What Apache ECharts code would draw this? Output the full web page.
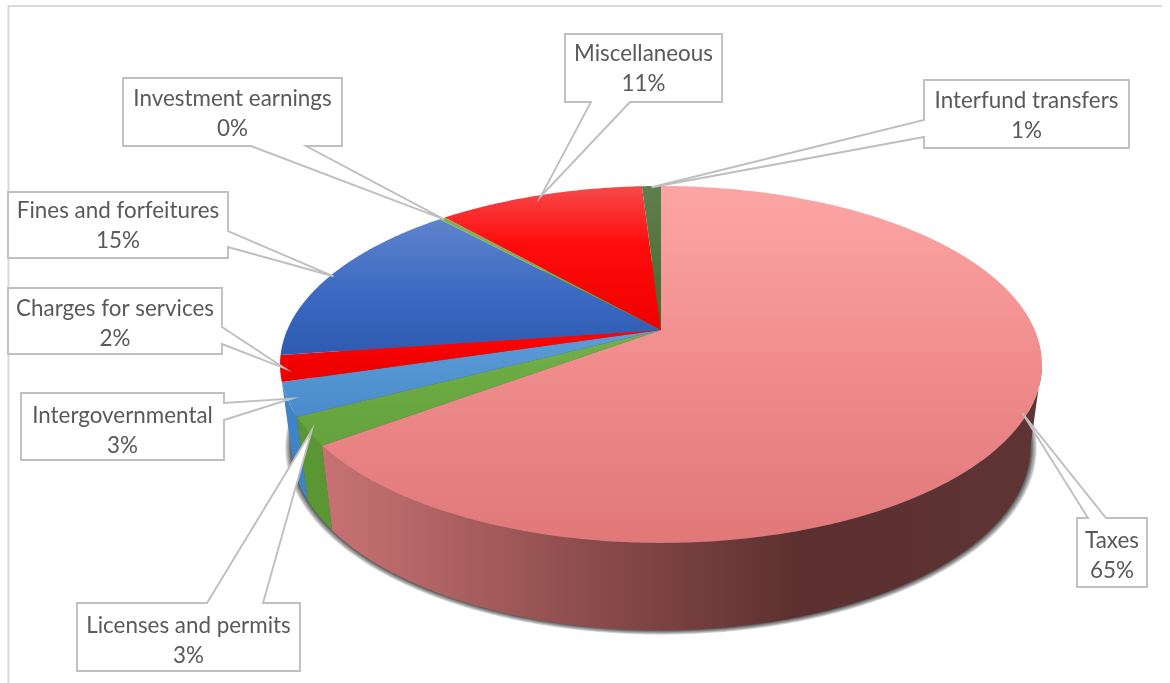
<!DOCTYPE html>
<html>
<head>
<meta charset="utf-8">
<style>html,body{margin:0;padding:0;background:#fff}#chart{width:1170px;height:683px}</style>
<script src="https://cdn.jsdelivr.net/npm/echarts@6/dist/echarts.min.js"></script>
</head>
<body>
<div id="chart"></div>
<script>
// Revenue sources, clockwise from twelve o'clock.
const categories = ['Taxes', 'Licenses and permits', 'Intergovernmental', 'Charges for services',
  'Fines and forfeitures', 'Investment earnings', 'Miscellaneous', 'Interfund transfers'];
const revenueShare = [64.85, 2.55, 3.0, 2.35, 15.45, 0.3, 10.55, 0.97];

// Callout boxes: left, top, right, bottom, the edge carrying the pointer, and the pointer's base along it.
const calloutBoxes = [
  [1077, 518, 1147, 587, 'top', 1088, 1106],
  [77, 603, 300, 671, 'top', 207, 263],
  [21, 393, 224, 460, 'right', 403, 420],
  [8, 288, 222, 354, 'right', 327, 344],
  [8, 192, 228, 258, 'right', 231, 247],
  [123, 78, 342, 146, 'bottom', 251, 306],
  [565, 34, 722, 102, 'bottom', 591, 630],
  [924, 80, 1129, 148, 'left', 120, 137]
];
// Vertical nudge of each callout's text inside its box.
const calloutTextShift = [3, 4, 4, 2.5, 0.5, 2, 1, 2];

// Face shading per slice: vertical stops on the top face, horizontal stops on the wall.
const topStops = [
  [[0, '#FDA5A5'], [0.5, '#F08C8C'], [1, '#E07878']],
  [[0, '#72B049'], [1, '#63A23C']],
  [[0, '#5B9CD8'], [1, '#4A8CCB']],
  [[0, '#FF0505'], [1, '#EA0000']],
  [[0, '#5F84CC'], [0.55, '#3C69C2'], [1, '#2E5BB0']],
  [[0, '#7DB45A'], [1, '#6CA845']],
  [[0, '#F64A4A'], [0.4, '#FF0C0C'], [1, '#F00000']],
  [[0, '#607F50'], [1, '#43682B']]
];
const wallStops = [
  [[0, '#C87272'], [0.11, '#B86868'], [0.386, '#8A4A4A'], [0.664, '#5C3030'], [1, '#5F3434']],
  [[0, '#5A9632'], [1, '#5A9632']],
  [[0, '#3F85C6'], [1, '#3F85C6']],
  [[0, '#D40000'], [1, '#D40000']],
  [[0, '#274A90'], [1, '#274A90']],
  [[0, '#5A9632'], [1, '#5A9632']],
  [[0, '#D40000'], [1, '#D40000']],
  [[0, '#3A5A25'], [1, '#3A5A25']]
];

// Soft edge under the disc, as stacked translucent rims from the outside in.
const shadowRims = [1.016, 1.013, 1.010, 1.007, 1.005, 1.003, 1.001];

// Perspective projection of the disc: the apex stays at the slices' meeting point,
// the far rim is compressed and the near rim enlarged.
const apexX = 661, apexY = 330, tilt = 0.193;
const spanX = 373.8, spanY = 171.8;
const lowerY = 411, lowerScaleX = 0.97, lowerScaleY = 1.03;
const wallFrom = 101, wallTo = 253.4;
const rimTop = apexY - spanY / (1 + tilt), rimBottom = apexY + spanY / (1 - tilt);

function project(deg, radius, lower) {
  const a = deg * Math.PI / 180, x = Math.sin(a) * radius, y = -Math.cos(a) * radius;
  const d = 1 - tilt * y, px = spanX * x / d, py = spanY * y / d;
  return lower ? [apexX + lowerScaleX * px, lowerY + lowerScaleY * py] : [apexX + px, apexY + py];
}
function arc(from, to, lower, radius) {
  const pts = [], n = Math.max(2, Math.ceil(Math.abs(to - from) * 2));
  for (let i = 0; i <= n; i++) pts.push(project(from + (to - from) * i / n, radius || 1, lower));
  return pts;
}

const total = revenueShare.reduce((s, v) => s + v, 0);
const sliceAngles = [];
revenueShare.reduce((acc, v) => {
  const next = acc + v / total * 360;
  sliceAngles.push([acc, next]);
  return next;
}, 0);

function gradient(stops, x, y, x2, y2) {
  return {
    type: 'linear', x, y, x2, y2, global: true,
    colorStops: stops.map(s => ({ offset: s[0], color: s[1] }))
  };
}

function renderShadow(params) {
  return {
    type: 'polygon',
    shape: { points: arc(0, 360, true, shadowRims[params.dataIndex]) },
    style: { fill: 'rgba(30,30,30,0.17)' }
  };
}
function renderWall(params) {
  const i = params.dataIndex, [a0, a1] = sliceAngles[i];
  const from = Math.max(a0, wallFrom), to = Math.min(a1, wallTo);
  if (to <= from) return { type: 'group', children: [] };
  const pts = arc(from, to, false).concat(arc(to, from, true));
  const xs = arc(a0, Math.min(a1, wallTo), false).map(p => p[0]);
  const start = i === 0 ? Math.min.apply(null, xs) : 0;
  const end = i === 0 ? apexX + spanX / Math.sqrt(1 - tilt * tilt) : 1170;
  return {
    type: 'polygon',
    shape: { points: pts },
    style: { fill: gradient(wallStops[i], start, 0, end, 0) }
  };
}
function renderTop(params) {
  const i = params.dataIndex, [a0, a1] = sliceAngles[i];
  const pts = arc(a0, a1, false).concat([[apexX, apexY]]);
  const ys = pts.map(p => p[1]);
  // Each slice shades across its own height; the largest slice spans the full disc.
  const y0 = i === 0 ? rimTop : Math.min.apply(null, ys);
  const y1 = i === 0 ? rimBottom : Math.max.apply(null, ys);
  return {
    type: 'polygon',
    shape: { points: pts },
    style: { fill: gradient(topStops[i], 0, y0, 0, y1) }
  };
}
function renderCallout(params, api) {
  const i = params.dataIndex, [l, t, r, b, edge, p0, p1] = calloutBoxes[i];
  const [a0, a1] = sliceAngles[i];
  const tip = project((a0 + a1) / 2, 0.99, false);
  const pts = [[l, t]];
  if (edge === 'top') pts.push([p0, t], tip, [p1, t]);
  pts.push([r, t]);
  if (edge === 'right') pts.push([r, p0], tip, [r, p1]);
  pts.push([r, b]);
  if (edge === 'bottom') pts.push([p1, b], tip, [p0, b]);
  pts.push([l, b]);
  if (edge === 'left') pts.push([l, p1], tip, [l, p0]);
  const pct = Math.round(api.value(0) / total * 100) + '%';
  return {
    type: 'group',
    children: [
      { type: 'polygon', shape: { points: pts },
        style: { fill: '#fff', stroke: '#BFBFBF', lineWidth: 1.9, lineJoin: 'miter' } },
      { type: 'text', x: (l + r) / 2, y: (t + b) / 2 + calloutTextShift[i],
        style: { text: categories[i] + '\n' + pct, fill: '#595959', align: 'center',
          verticalAlign: 'middle', lineHeight: 30, fontSize: 22.4, fontFamily: 'Lato' } }
    ]
  };
}

const seriesData = revenueShare.map((v, i) => ({ name: categories[i], value: [v] }));
const layer = (renderItem, z, data) => ({
  type: 'custom', coordinateSystem: 'none', renderItem, z, data: data || seriesData,
  silent: true, animation: false, clip: false
});

const chart = echarts.init(document.getElementById('chart'), null, { renderer: 'canvas' });
chart.setOption({
  backgroundColor: '#fff',
  animation: false,
  graphic: [{
    type: 'polyline', z: 0,
    shape: { points: [[8.5, 683], [8.5, 6], [1162, 6]] },
    style: { fill: null, stroke: '#D9D9D9', lineWidth: 2 }
  }],
  series: [
    layer(renderShadow, 1, shadowRims.map(r => ({ name: 'rim', value: [r] }))),
    layer(renderWall, 2),
    layer(renderTop, 3),
    layer(renderCallout, 4)
  ]
});
</script>
</body>
</html>
